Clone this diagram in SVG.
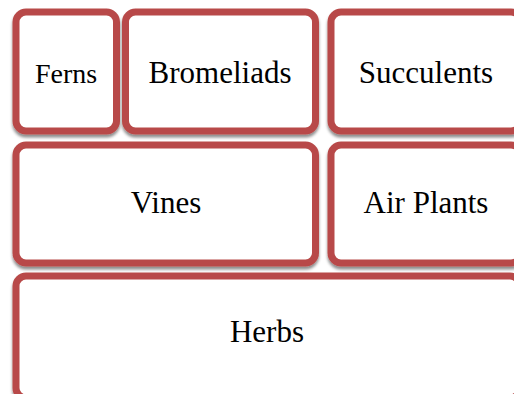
<svg xmlns="http://www.w3.org/2000/svg" width="514" height="394" viewBox="0 0 514 394">
<defs>
<filter id="sh" x="-10%" y="-10%" width="120%" height="130%">
<feDropShadow dx="0" dy="3" stdDeviation="1.8" flood-color="#000" flood-opacity="0.45"/>
</filter>
<style>
.box{fill:#fff;stroke:#b84a48;stroke-width:7;filter:url(#sh)}
.lbl{font-family:'Liberation Serif',serif;font-size:31px;fill:#000;text-anchor:middle}
.sm{font-size:28px}
</style>
</defs>
<rect width="514" height="394" fill="#fff"/>
<g id="ferns"><rect class="box" x="16" y="12" width="100.5" height="119" rx="10"/><text class="lbl sm" x="66" y="83">Ferns</text></g>
<g id="bromeliads"><rect class="box" x="125.5" y="12" width="190" height="119" rx="10"/><text class="lbl" x="220" y="83">Bromeliads</text></g>
<g id="succulents"><rect class="box" x="331" y="12" width="190" height="119" rx="10"/><text class="lbl" x="426" y="83">Succulents</text></g>
<g id="vines"><rect class="box" x="16" y="145" width="299.5" height="118" rx="10"/><text class="lbl" x="166" y="213">Vines</text></g>
<g id="air-plants"><rect class="box" x="331" y="145" width="190" height="118" rx="10"/><text class="lbl" x="426" y="213">Air Plants</text></g>
<g id="herbs"><rect class="box" x="16" y="276" width="504" height="122" rx="10"/><text class="lbl" x="267" y="342">Herbs</text></g>
<g id="connectors"></g>
</svg>
